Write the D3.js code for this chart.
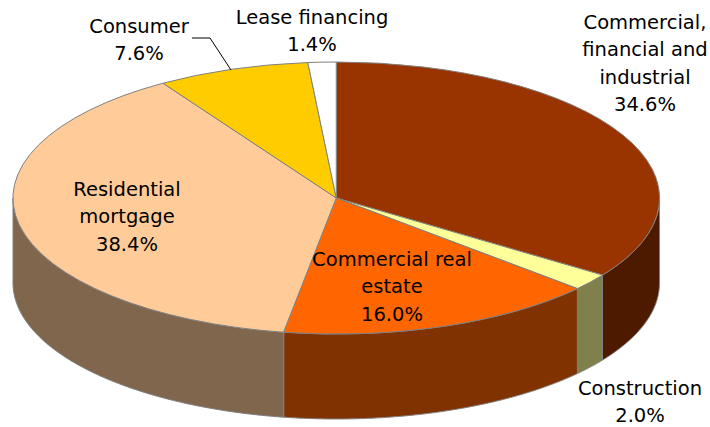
<!DOCTYPE html>
<html><head><meta charset="utf-8">
<script src="https://cdn.jsdelivr.net/npm/d3@7"></script>
<style>html,body{margin:0;padding:0;background:#fff}svg{display:block}text{font-family:"DejaVu Sans",sans-serif;font-size:19.5px;fill:#000;text-anchor:middle}</style>
</head><body><div id="c"></div>
<script>
const categories=["Commercial, financial and industrial","Construction","Commercial real estate","Residential mortgage","Consumer","Lease financing"];
const values=[34.6,2.0,16.0,38.4,7.6,1.4];
const topColors=["#993300","#FFFF99","#FF6600","#FFCC99","#FFCC00","#FFFFFF"];
const wallColors=["#4D1A00","#80804D","#803300","#80664D","#806600","#808080"];
const labelLines=[["Commercial,","financial and","industrial","34.6%"],["Construction","2.0%"],["Commercial real","estate","16.0%"],["Residential","mortgage","38.4%"],["Consumer","7.6%"],["Lease financing","1.4%"]];
const labelAnchors=[[645,22],[640,388],[392,259],[127,189],[139,26],[312,17]];
const leader=[[192,38],[210,38],[231,70]];

const W=710,H=427,xMin=13,xMax=659.5,yMin=62,yMax=334,depth=85,lineGap=27.6;
const sx=d3.scaleLinear().domain([-1,1]).range([xMin,xMax]);
const sy=d3.scaleLinear().domain([-1,1]).range([yMin,yMax]);
const svg=d3.select("#c").append("svg").attr("width",W).attr("height",H).attr("viewBox",`0 0 ${W} ${H}`);
const arcs=d3.pie().sort(null).value(d=>d)(values);

// side walls (only the front half of the rim is visible)
const wall=d3.area().x(a=>sx(Math.sin(a))).y0(a=>sy(-Math.cos(a))).y1(a=>sy(-Math.cos(a))+depth);
arcs.forEach((d,i)=>{
  const a0=Math.max(d.startAngle,Math.PI/2),a1=Math.min(d.endAngle,Math.PI*1.5);
  if(a1<=a0)return;
  svg.append("path").attr("d",wall(d3.range(0,121).map(k=>a0+(a1-a0)*k/120)))
    .attr("fill",wallColors[i]).attr("stroke","#808080").attr("stroke-width",1);
});

// top face
const arc=d3.arc().innerRadius(0).outerRadius(1);
svg.append("g").attr("transform",`translate(${sx(0)},${sy(0)}) scale(${sx(1)-sx(0)},${sy(1)-sy(0)})`)
  .selectAll("path").data(arcs).join("path")
  .attr("d",arc).attr("fill",(d,i)=>topColors[i])
  .attr("stroke","#808080").attr("stroke-width",1).attr("vector-effect","non-scaling-stroke");

// leader
svg.append("path").attr("d",d3.line()(leader)).attr("fill","none").attr("stroke","#000").attr("stroke-width",1);

// labels
labelLines.forEach((lines,i)=>{
  const t=svg.append("text").attr("x",labelAnchors[i][0]).attr("y",labelAnchors[i][1]);
  lines.forEach((s,k)=>t.append("tspan").attr("x",labelAnchors[i][0]).attr("y",labelAnchors[i][1]+k*lineGap+6.5).text(s));
});
</script></body></html>
